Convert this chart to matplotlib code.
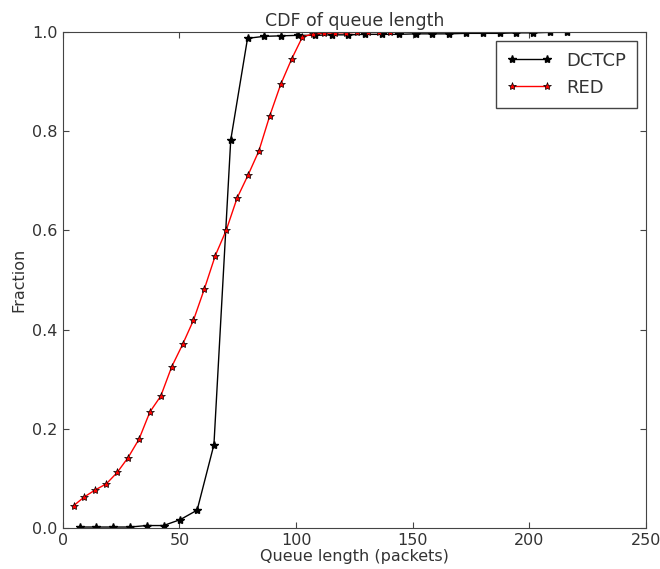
import numpy as np
import matplotlib.pyplot as plt

dctcp_x = [7.2 * k for k in range(1, 31)]
dctcp_y = [0.002, 0.002, 0.002, 0.002, 0.005, 0.005, 0.017, 0.036, 0.168, 0.782,
           0.987, 0.991, 0.992, 0.993, 0.993, 0.994, 0.994, 0.995, 0.995, 0.995,
           0.996, 0.996, 0.996, 0.997, 0.997, 0.997, 0.998, 0.998, 0.999, 0.999]

red_x = [4.67 * k for k in range(1, 31)]
red_y = [0.045, 0.063, 0.077, 0.089, 0.112, 0.142, 0.179, 0.234, 0.266, 0.325,
         0.370, 0.419, 0.482, 0.549, 0.600, 0.665, 0.711, 0.760, 0.831, 0.894,
         0.945, 0.990, 0.996, 0.997, 0.998, 0.998, 0.999, 0.999, 0.999, 1.000]

fig = plt.figure(figsize=(6.6, 5.69), dpi=100)
ax = fig.add_axes([0.095, 0.072, 0.884, 0.872])

ax.plot(dctcp_x, dctcp_y, color="black", marker="*", markersize=6,
        markeredgecolor="black", linewidth=1, label="DCTCP")
ax.plot(red_x, red_y, color="red", marker="*", markersize=6,
        markerfacecolor="red", markeredgecolor="black", markeredgewidth=0.5,
        linewidth=1, label="RED")

ax.set_xlim(0, 250)
ax.set_ylim(0, 1.0)
ax.set_xticks([0, 50, 100, 150, 200, 250])
ax.set_yticks([0.0, 0.2, 0.4, 0.6, 0.8, 1.0])
for s in ax.spines.values():
    s.set_color("#444444")
ax.tick_params(direction="in", labelsize=11.5, length=4, top=True, right=True,
               labelcolor="#333333", color="#444444")
ax.set_xlabel("Queue length (packets)", fontsize=11.5, labelpad=1, color="#333333")
ax.set_ylabel("Fraction", fontsize=11.5, color="#333333")
ax.set_title("CDF of queue length", fontsize=12.5, pad=4, color="#333333")
leg = ax.legend(loc="upper right", fontsize=13, numpoints=2, fancybox=False,
                framealpha=1, edgecolor="#444444", borderpad=0.6, handlelength=2.5)
for t in leg.get_texts():
    t.set_color("#333333")

fig.savefig("out.png")
